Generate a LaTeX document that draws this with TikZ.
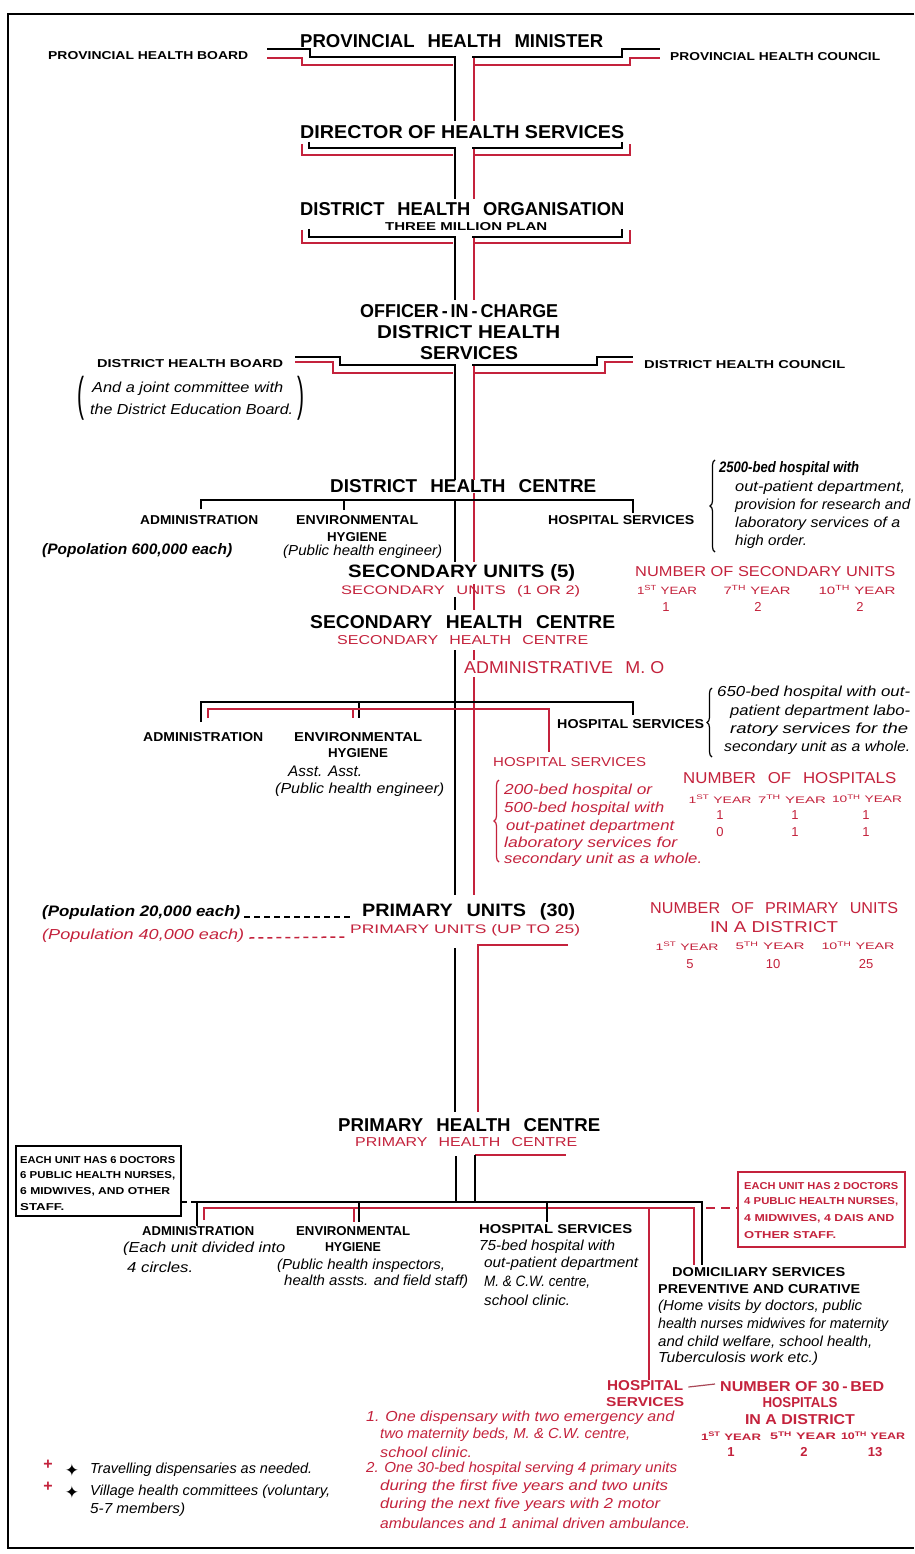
\documentclass[tikz,border=0pt]{standalone}
\usepackage{fontspec}
\setmainfont{Liberation Sans}
\newfontfamily\djv{DejaVu Sans}
\usetikzlibrary{decorations.pathreplacing,calc}
\definecolor{rd}{RGB}{196,34,60}
\newcommand{\capB}[3]{\resizebox{#1pt}{#2pt}{\bfseries #3}}
\newcommand{\capR}[3]{\resizebox{#1pt}{#2pt}{#3}}
\newcommand{\itx}[2]{\resizebox{#1pt}{10.5pt}{\itshape #2}}
\newcommand{\bitx}[2]{\resizebox{#1pt}{11pt}{\bfseries\itshape #2}}
\newcommand{\wsp}{\hspace{0.7em}}
\newcommand{\yr}[2]{#1\textsuperscript{#2} YEAR}
\newcommand{\dg}[1]{{\fontsize{13}{13}\selectfont #1}}
\begin{document}
\begin{tikzpicture}[x=1pt,y=-1pt,
  bl/.style={line width=2.6pt,black},
  rl/.style={line width=1.8pt,rd},
  lb/.style={inner sep=0pt,anchor=west},
  cb/.style={inner sep=0pt,anchor=center},
  rt/.style={text=rd},
  brc/.style={decorate,decoration={brace,amplitude=5pt},line width=1.2pt}]
\useasboundingbox (0,0) rectangle (914,1554);
\fill[white] (0,0) rectangle (914,1554);
% frame
\draw[line width=2.2pt] (914,14) -- (8,14) -- (8,1548) -- (914,1548);

% ---------- texts: top ----------
\node[lb] (pm) at (300,41) {\capB{303}{13}{PROVINCIAL\wsp HEALTH\wsp MINISTER}};
\node[lb] (pb) at (48,56) {\capB{200}{8}{PROVINCIAL HEALTH BOARD}};
\node[lb] (pc) at (670,57) {\capB{210}{8}{PROVINCIAL HEALTH COUNCIL}};
\node[lb] (dhs) at (300,132) {\capB{324}{13}{DIRECTOR OF HEALTH SERVICES}};
\node[lb] (dho) at (300,209) {\capB{324}{13}{DISTRICT\wsp HEALTH\wsp ORGANISATION}};
\node[lb] (tmp) at (385,227) {\capB{162}{8}{THREE MILLION PLAN}};
\node[lb] (oic1) at (360,311) {\capB{198}{13}{OFFICER\,-\,IN\,-\,CHARGE}};
\node[lb] (oic2) at (377,332) {\capB{183}{13}{DISTRICT HEALTH}};
\node[lb] (oic3) at (420,353) {\capB{98}{13}{SERVICES}};
\node[lb] (dhb) at (97,364) {\capB{186}{8}{DISTRICT HEALTH BOARD}};
\node[lb] (dhcl) at (644,365) {\capB{201}{8}{DISTRICT HEALTH COUNCIL}};
\node[lb] (jc1) at (92,389) {\itx{191}{And a joint committee with}};
\node[lb] (jc2) at (90,409) {\itx{203}{the District Education Board.}};
\node[cb] (pl) at (81,398) {\resizebox*{7pt}{44pt}{(}};
\node[cb] (pr) at (301,398) {\resizebox*{7pt}{44pt}{)}};

% ---------- district health centre ----------
\node[lb] (dhc) at (330,486) {\capB{266}{13}{DISTRICT\wsp HEALTH\wsp CENTRE}};
\node[lb] (adm1) at (140,520) {\capB{118}{9}{ADMINISTRATION}};
\node[lb] (env1) at (296,520) {\capB{122}{9}{ENVIRONMENTAL}};
\node[cb] (hyg1) at (357,537) {\capB{60}{9}{HYGIENE}};
\node[lb] (phe1) at (283,552) {\itx{159}{(Public health engineer)}};
\node[lb] (hs1) at (548,520) {\capB{146}{9}{HOSPITAL SERVICES}};
\node[lb] (pop600) at (42,551) {\bitx{190}{(Popolation 600,000 each)}};
\node[lb] (b1a) at (719,469) {\bitx{140}{2500-bed hospital with}};
\node[lb] (b1b) at (735,488) {\itx{170}{out-patient department,}};
\node[lb] (b1c) at (735,506) {\itx{175}{provision for research and}};
\node[lb] (b1d) at (735,524) {\itx{165}{laboratory services of a}};
\node[lb] (b1e) at (735,542) {\itx{72}{high order.}};
\draw[brc] (715,552) -- (715,460);

% ---------- secondary units ----------
\node[lb] (su5) at (348,573) {\capB{227}{13}{SECONDARY UNITS (5)}};
\node[lb,rt] (su12) at (341,591) {\capR{239}{9}{SECONDARY\wsp UNITS\wsp (1 OR 2)}};
\node[lb,rt] (nsu) at (635,572) {\capR{260}{10}{NUMBER OF SECONDARY UNITS}};
\node[cb,rt] (sy1) at (667,590) {\capR{60}{9}{\yr{1}{ST}}};
\node[cb,rt] (sy2) at (757,590) {\capR{67}{9}{\yr{7}{TH}}};
\node[cb,rt] (sy3) at (857,590) {\capR{77}{9}{\yr{10}{TH}}};
\node[cb,rt] (sn1) at (666,607) {\dg{1}};
\node[cb,rt] (sn2) at (758,607) {\dg{2}};
\node[cb,rt] (sn3) at (860,607) {\dg{2}};
\node[lb] (shc) at (310,622) {\capB{305}{13}{SECONDARY\wsp HEALTH\wsp CENTRE}};
\node[lb,rt] (shcr) at (337,640) {\capR{251}{9}{SECONDARY\wsp HEALTH\wsp CENTRE}};
\node[lb,rt] (amo) at (464,668) {\capR{200}{12}{ADMINISTRATIVE\wsp M. O}};

\node[lb] (adm2) at (143,737) {\capB{120}{9}{ADMINISTRATION}};
\node[lb] (env2) at (294,737) {\capB{128}{9}{ENVIRONMENTAL}};
\node[cb] (hyg2) at (358,753) {\capB{60}{9}{HYGIENE}};
\node[lb] (aa) at (288,771) {\itx{74}{Asst. Asst.}};
\node[lb] (phe2) at (275,790) {\itx{169}{(Public health engineer)}};
\node[lb] (hs2) at (557,724) {\capB{147}{9}{HOSPITAL SERVICES}};
\draw[brc] (712,757) -- (712,688);
\node[lb] (b2a) at (717,693) {\itx{193}{650-bed hospital with out-}};
\node[lb] (b2b) at (730,712) {\itx{180}{patient department labo-}};
\node[lb] (b2c) at (730,730) {\itx{178}{ratory services for the}};
\node[lb] (b2d) at (724,748) {\itx{186}{secondary unit as a whole.}};
\node[lb,rt] (hs2r) at (493,762) {\capR{153}{9}{HOSPITAL SERVICES}};
\draw[brc,rd] (499,862) -- (499,780);
\node[lb,rt] (r2a) at (504,791) {\itx{148}{200-bed hospital or}};
\node[lb,rt] (r2b) at (504,809) {\itx{160}{500-bed hospital with}};
\node[lb,rt] (r2c) at (506,827) {\itx{168}{out-patinet department}};
\node[lb,rt] (r2d) at (504,844) {\itx{173}{laboratory services for}};
\node[lb,rt] (r2e) at (504,860) {\itx{198}{secondary unit as a whole.}};
\node[lb,rt] (noh) at (683,778) {\capR{213}{11}{NUMBER\wsp OF\wsp HOSPITALS}};
\node[cb,rt] (hy1) at (720,799) {\capR{63}{8}{\yr{1}{ST}}};
\node[cb,rt] (hy2) at (792,799) {\capR{68}{8}{\yr{7}{TH}}};
\node[cb,rt] (hy3) at (867,799) {\capR{70}{8}{\yr{10}{TH}}};
\node[cb,rt] (hn1) at (720,815) {\dg{1}};
\node[cb,rt] (hn2) at (795,815) {\dg{1}};
\node[cb,rt] (hn3) at (866,815) {\dg{1}};
\node[cb,rt] (hn4) at (720,832) {\dg{0}};
\node[cb,rt] (hn5) at (795,832) {\dg{1}};
\node[cb,rt] (hn6) at (866,832) {\dg{1}};

% ---------- primary units ----------
\node[lb] (pop20) at (42,913) {\bitx{198}{(Population 20,000 each)}};
\node[lb] (pu) at (362,912) {\capB{213}{13}{PRIMARY\wsp UNITS\wsp (30)}};
\node[lb,rt] (pop40) at (42,936) {\itx{202}{(Population 40,000 each)}};
\node[lb,rt] (pur) at (350,930) {\capR{230}{9}{PRIMARY UNITS (UP TO 25)}};
\draw[line width=2pt,dash pattern=on 6pt off 4pt] ($(pop20.east)+(4,4)$) -- ($(pu.west)+(-8,5)$);
\draw[rd,line width=1.5pt,dash pattern=on 5pt off 4pt] ($(pop40.east)+(5,2)$) -- ($(pur.west)+(-4,7)$);
\node[lb,rt] (npu) at (650,908) {\capR{248}{11}{NUMBER\wsp OF\wsp PRIMARY\wsp UNITS}};
\node[cb,rt] (iad) at (774,927) {\capR{128}{11}{IN A DISTRICT}};
\node[cb,rt] (py1) at (687,946) {\capR{63}{8}{\yr{1}{ST}}};
\node[cb,rt] (py2) at (770,946) {\capR{69}{8}{\yr{5}{TH}}};
\node[cb,rt] (py3) at (858,946) {\capR{73}{8}{\yr{10}{TH}}};
\node[cb,rt] (pn1) at (690,964) {\dg{5}};
\node[cb,rt] (pn2) at (773,964) {\dg{10}};
\node[cb,rt] (pn3) at (866,964) {\dg{25}};

% ---------- primary health centre ----------
\node[lb] (phc) at (338,1125) {\capB{262}{13}{PRIMARY\wsp HEALTH\wsp CENTRE}};
\node[lb,rt] (phcr) at (355,1142) {\capR{222}{9}{PRIMARY\wsp HEALTH\wsp CENTRE}};
\node[draw,line width=2pt,minimum width=165pt,minimum height=70pt,anchor=north west,inner sep=0pt] (lbox) at (15,1145) {};
\node[lb] (lb1) at (20,1160) {\capB{155}{7}{EACH UNIT HAS 6 DOCTORS}};
\node[lb] (lb2) at (20,1176) {\capB{155}{7}{6 PUBLIC HEALTH NURSES,}};
\node[lb] (lb3) at (20,1192) {\capB{150}{7}{6 MIDWIVES, AND OTHER}};
\node[lb] (lb4) at (20,1207) {\capB{44}{7}{STAFF.}};
\node[draw=rd,line width=2pt,minimum width=167pt,minimum height=75pt,anchor=north west,inner sep=0pt] (rbox) at (737,1171) {};
\node[lb,rt] (rb1) at (744,1186) {\capB{154}{7}{EACH UNIT HAS 2 DOCTORS}};
\node[lb,rt] (rb2) at (744,1202) {\capB{154}{7}{4 PUBLIC HEALTH NURSES,}};
\node[lb,rt] (rb3) at (744,1219) {\capB{150}{7}{4 MIDWIVES, 4 DAIS AND}};
\node[lb,rt] (rb4) at (744,1235) {\capB{92}{7}{OTHER STAFF.}};

\node[lb] (adm3) at (142,1231) {\capB{112}{9}{ADMINISTRATION}};
\node[lb] (a3a) at (123,1249) {\itx{162}{(Each unit divided into}};
\node[lb] (a3b) at (127,1267) {\itx{66}{4 circles.}};
\node[lb] (env3) at (296,1231) {\capB{114}{9}{ENVIRONMENTAL}};
\node[cb] (hyg3) at (353,1247) {\capB{56}{9}{HYGIENE}};
\node[lb] (e3a) at (277,1266) {\itx{168}{(Public health inspectors,}};
\node[lb] (e3b) at (284,1282) {\itx{184}{health assts. and field staff)}};
\node[lb] (hs3) at (479,1229) {\capB{153}{9}{HOSPITAL SERVICES}};
\node[lb] (h3a) at (479,1247) {\itx{136}{75-bed hospital with}};
\node[lb] (h3b) at (484,1264) {\itx{154}{out-patient department}};
\node[lb] (h3c) at (484,1282) {\itx{106}{M. \& C.W. centre,}};
\node[lb] (h3d) at (484,1300) {\itx{86}{school clinic.}};
\node[lb] (dom) at (672,1272) {\capB{173}{9}{DOMICILIARY SERVICES}};
\node[lb] (prv) at (658,1289) {\capB{202}{9}{PREVENTIVE AND CURATIVE}};
\node[lb] (d1) at (658,1307) {\itx{204}{(Home visits by doctors, public}};
\node[lb] (d2) at (658,1325) {\itx{230}{health nurses midwives for maternity}};
\node[lb] (d3) at (658,1342) {\itx{214}{and child welfare, school health,}};
\node[lb] (d4) at (658,1359) {\itx{160}{Tuberculosis work etc.)}};

% ---------- bottom red ----------
\node[lb,rt] (hsb1) at (607,1386) {\capB{76}{10}{HOSPITAL}};
\node[lb,rt] (hsb2) at (606,1402) {\capB{78}{9}{SERVICES}};
\node[lb,rt] (nb1) at (720,1387) {\capB{164}{10}{NUMBER OF 30\,-\,BED}};
\node[cb,rt] (nb2) at (800,1403) {\capB{75}{10}{HOSPITALS}};
\node[cb,rt] (nb3) at (800,1420) {\capB{110}{10}{IN A DISTRICT}};
\node[cb,rt] (by1) at (731,1436) {\capB{60}{8}{\yr{1}{ST}}};
\node[cb,rt] (by2) at (803,1436) {\capB{66}{8}{\yr{5}{TH}}};
\node[cb,rt] (by3) at (873,1436) {\capB{64}{8}{\yr{10}{TH}}};
\node[cb,rt] (bn1) at (731,1452) {\dg{\bfseries 1}};
\node[cb,rt] (bn2) at (804,1452) {\dg{\bfseries 2}};
\node[cb,rt] (bn3) at (875,1452) {\dg{\bfseries 13}};
\draw[rd!60!gray,line width=1.2pt] ($(hsb1.east)+(5,1)$) -- ($(nb1.west)+(-5,-3)$);
\node[lb,rt] (l1a) at (366,1418) {\itx{308}{1. One dispensary with two emergency and}};
\node[lb,rt] (l1b) at (380,1435) {\itx{250}{two maternity beds, M. \& C.W. centre,}};
\node[lb,rt] (l1c) at (380,1452) {\itx{92}{school clinic.}};
\node[lb,rt] (l2a) at (366,1469) {\itx{311}{2. One 30-bed hospital serving 4 primary units}};
\node[lb,rt] (l2b) at (380,1487) {\itx{288}{during the first five years and two units}};
\node[lb,rt] (l2c) at (380,1505) {\itx{280}{during the next five years with 2 motor}};
\node[lb,rt] (l2d) at (380,1523) {\itx{310}{ambulances and 1 animal driven ambulance.}};

% legend
\node[cb,rt] (cr1) at (48,1465) {\fontsize{16}{16}\selectfont\bfseries +};
\node[cb] (cb1) at (72,1470) {\djv\fontsize{17}{17}\selectfont ✦};
\node[lb] (lg1) at (90,1470) {\itx{222}{Travelling dispensaries as needed.}};
\node[cb,rt] (cr2) at (48,1487) {\fontsize{16}{16}\selectfont\bfseries +};
\node[cb] (cb2) at (72,1492) {\djv\fontsize{17}{17}\selectfont ✦};
\node[lb] (lg2) at (90,1492) {\itx{240}{Village health committees (voluntary,}};
\node[lb] (lg3) at (90,1510) {\itx{95}{5-7 members)}};

% ---------- connectors: red first ----------
% top
\draw[rl] (267,58) -- (302,58) -- (302,65) -- (453,65);
\draw[rl] (474,57) -- (474,121);
\draw[rl] (475,65) -- (630,65) -- (630,58) -- (660,58);
\draw[bl] (267,49) -- (310,49) -- (310,57) -- (455,57) -- (455,121);
\draw[bl] (472,57) -- (622,57) -- (622,49) -- (660,49);
% director
\draw[rl] (302,144) -- (302,155) -- (453,155);
\draw[rl] (474,148) -- (474,199);
\draw[rl] (475,155) -- (630,155) -- (630,144);
\draw[bl] (309,142) -- (309,148) -- (455,148) -- (455,199);
\draw[bl] (472,148) -- (622,148) -- (622,142);
% DHO
\draw[rl] (302,230) -- (302,243) -- (453,243);
\draw[rl] (474,237) -- (474,300);
\draw[rl] (475,243) -- (630,243) -- (630,230);
\draw[bl] (309,229) -- (309,237) -- (455,237) -- (455,300);
\draw[bl] (472,237) -- (622,237) -- (622,229);
% officer
\draw[rl] (295,362) -- (333,362) -- (333,373) -- (453,373);
\draw[rl] (474,365) -- (474,480);
\draw[rl] (475,373) -- (605,373) -- (605,362) -- (633,362);
\draw[bl] (295,357) -- (340,357) -- (340,365) -- (455,365) -- (455,480);
\draw[bl] (472,365) -- (597,365) -- (597,357) -- (633,357);
% district health centre
\draw[rl] (474,493) -- (474,562);
\draw[bl] (201,509) -- (201,500) -- (633,500) -- (633,513);
\draw[bl] (344,500) -- (344,510);
\draw[bl] (455,500) -- (455,562);
% secondary
\draw[rl] (474,584) -- (474,610);
\draw[bl] (455,597) -- (455,610);
\draw[rl] (474,650) -- (474,660);
\draw[rl] (474,677) -- (474,895);
\draw[bl] (455,650) -- (455,895);
\draw[bl] (201,722) -- (201,702) -- (633,702) -- (633,715);
\draw[bl] (359,702) -- (359,718);
\draw[rl] (208,718) -- (208,709) -- (549,709) -- (549,752);
\draw[rl] (353,709) -- (353,718);
% primary units
\draw[rl] (568,945) -- (478,945) -- (478,1112);
\draw[bl] (455,948) -- (455,1112);
% primary health centre
\draw[rl] (475,1155) -- (566,1155);
\draw[rl] (204,1220) -- (204,1208) -- (694,1208) -- (694,1265);
\draw[rl] (354,1208) -- (354,1222);
\draw[rl] (649,1208) -- (649,1380);
\draw[rd,line width=1.8pt,dash pattern=on 9pt off 6pt] (706,1208) -- (rbox.west |- 0,1208);
\draw[bl] (456,1156) -- (456,1202);
\draw[bl] (475,1155) -- (475,1202);
\draw[bl] (197,1226) -- (197,1202) -- (702,1202) -- (702,1265);
\draw[bl] (359,1202) -- (359,1222);
\draw[bl] (547,1202) -- (547,1222);
\draw[line width=2pt,dash pattern=on 5pt off 4pt] (lbox.east |- 0,1202) -- (196,1202);
\end{tikzpicture}
\end{document}
